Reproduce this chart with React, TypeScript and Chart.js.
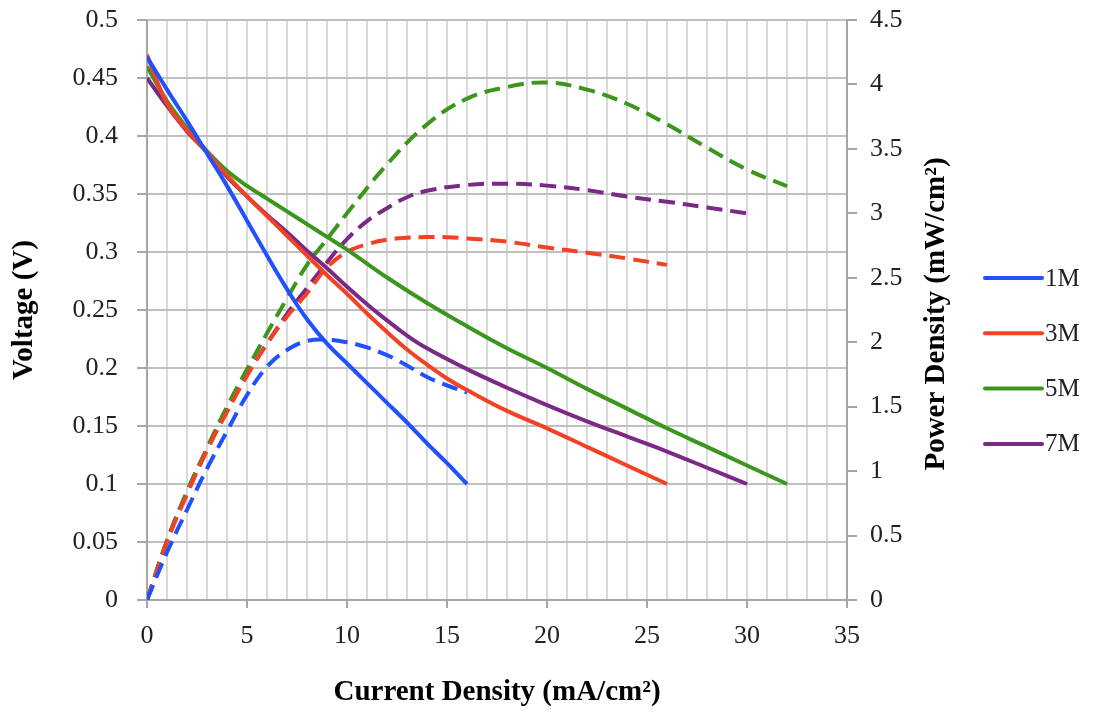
import React, { useEffect, useRef } from 'react';
import { Chart, registerables } from 'chart.js';

Chart.register(...registerables);

// ---- data ----
const seriesLabels = ['1M', '3M', '5M', '7M'];

const current1M = [0, 1, 2, 3, 4, 5, 6, 7, 8, 9, 10, 11, 12, 13, 14, 15, 16];
const voltage1M = [0.468, 0.44, 0.413, 0.385, 0.357, 0.327, 0.297, 0.268, 0.242, 0.221, 0.204, 0.187, 0.17, 0.153, 0.135, 0.118, 0.1];
const power1M = [0, 0.37, 0.7, 1.02, 1.31, 1.59, 1.81, 1.94, 2.01, 2.02, 2.0, 1.96, 1.9, 1.82, 1.73, 1.665, 1.61];

const current3M = [0, 1, 2, 3, 4, 5, 6, 7, 8, 9, 10, 11, 12, 13, 14, 15, 16, 18, 20, 22, 24, 26];
const voltage3M = [0.47, 0.428, 0.405, 0.386, 0.366, 0.348, 0.331, 0.314, 0.297, 0.28, 0.264, 0.247, 0.231, 0.216, 0.203, 0.191, 0.181, 0.163, 0.148, 0.132, 0.116, 0.1];
const power3M = [0, 0.45, 0.82, 1.16, 1.46, 1.74, 1.99, 2.2, 2.38, 2.58, 2.7, 2.76, 2.795, 2.81, 2.816, 2.815, 2.805, 2.78, 2.735, 2.695, 2.65, 2.6];

const current5M = [0, 1, 2, 3, 4, 5, 6, 7, 8, 9, 10, 12, 14, 16, 18, 20, 22, 24, 26, 28, 30, 32];
const voltage5M = [0.46, 0.43, 0.407, 0.387, 0.37, 0.357, 0.346, 0.335, 0.324, 0.313, 0.302, 0.278, 0.256, 0.236, 0.217, 0.2, 0.182, 0.165, 0.148, 0.132, 0.116, 0.1];
const power5M = [0, 0.46, 0.84, 1.18, 1.5, 1.79, 2.07, 2.34, 2.6, 2.8, 3.0, 3.38, 3.69, 3.89, 3.98, 4.015, 3.96, 3.85, 3.69, 3.51, 3.34, 3.21];

const current7M = [0, 1, 2, 3, 4, 5, 6, 7, 8, 9, 10, 11, 12, 13, 14, 16, 18, 20, 22, 24, 26, 28, 30];
const voltage7M = [0.45, 0.426, 0.404, 0.386, 0.365, 0.348, 0.332, 0.317, 0.301, 0.286, 0.27, 0.255, 0.241, 0.228, 0.217, 0.199, 0.183, 0.168, 0.154, 0.141, 0.128, 0.114, 0.1];
const power7M = [0, 0.46, 0.84, 1.17, 1.47, 1.75, 1.99, 2.22, 2.42, 2.62, 2.8, 2.94, 3.04, 3.125, 3.175, 3.22, 3.23, 3.215, 3.18, 3.13, 3.09, 3.045, 3.0];

const xTickLabels = ['0', '5', '10', '15', '20', '25', '30', '35'];
const voltageTickLabels = ['0', '0.05', '0.1', '0.15', '0.2', '0.25', '0.3', '0.35', '0.4', '0.45', '0.5'];
const powerTickLabels = ['0', '0.5', '1', '1.5', '2', '2.5', '3', '3.5', '4', '4.5'];

const xTitle = 'Current Density (mA/cm²)';
const leftTitle = 'Voltage (V)';
const rightTitle = 'Power Density (mW/cm²)';

// ---- styles ----
const seriesColors = ['#2050ff', '#f24124', '#3c961e', '#7a2a85'];
const FONT = "'Liberation Serif', 'Times New Roman', serif";
const AXIS_GRAY = '#a6a6a6';

const toPoints = (xs: number[], ys: number[]) => xs.map((x, i) => ({ x, y: ys[i] }));

export default function App() {
  const canvasRef = useRef<HTMLCanvasElement | null>(null);

  useEffect(() => {
    if (!canvasRef.current) return;
    const currents = [current1M, current3M, current5M, current7M];
    const voltages = [voltage1M, voltage3M, voltage5M, voltage7M];
    const powers = [power1M, power3M, power5M, power7M];

    const solid = seriesLabels.map((label, i) => ({
      label,
      data: toPoints(currents[i], voltages[i]),
      borderColor: seriesColors[i],
      backgroundColor: seriesColors[i],
      borderWidth: 4,
      yAxisID: 'y',
      fill: false,
      pointRadius: 0,
      tension: 0.4,
    }));
    const dashed = seriesLabels.map((label, i) => ({
      label: label + ' power',
      data: toPoints(currents[i], powers[i]),
      borderColor: seriesColors[i],
      backgroundColor: seriesColors[i],
      borderWidth: 4,
      borderDash: [16, 8],
      yAxisID: 'y1',
      fill: false,
      pointRadius: 0,
      tension: 0.4,
    }));

    const overlay = {
      id: 'overlay',
      afterDraw(chart: any) {
        const { ctx, chartArea } = chart;
        ctx.save();
        // right axis title (reads bottom to top)
        ctx.translate(chartArea.right + 90, (chartArea.top + chartArea.bottom) / 2 + 4);
        ctx.rotate(-Math.PI / 2);
        ctx.font = `bold 29px ${FONT}`;
        ctx.fillStyle = '#000';
        ctx.textAlign = 'center';
        ctx.textBaseline = 'middle';
        ctx.fillText(rightTitle, 0, 0);
        ctx.restore();

        // legend
        ctx.save();
        const x0 = chartArea.right + 138;
        seriesLabels.forEach((lab, i) => {
          const y = 278 + i * 55.3;
          ctx.strokeStyle = seriesColors[i];
          ctx.lineWidth = 4;
          ctx.lineCap = 'round';
          ctx.beginPath();
          ctx.moveTo(x0, y);
          ctx.lineTo(x0 + 57, y);
          ctx.stroke();
          ctx.font = `25px ${FONT}`;
          ctx.fillStyle = '#222';
          ctx.textAlign = 'left';
          ctx.textBaseline = 'middle';
          ctx.fillText(lab, x0 + 60, y + 1);
        });
        ctx.restore();
      },
    };

    const noVPad = (s: any) => { s.paddingTop = 0; s.paddingBottom = 0; };

    const chart = new Chart(canvasRef.current, {
      type: 'line',
      data: { datasets: [...solid, ...dashed] as any },
      plugins: [overlay],
      options: {
        animation: false,
        responsive: false,
        maintainAspectRatio: false,
        layout: { padding: { top: 20, left: 0, right: 0, bottom: 0 } },
        plugins: { legend: { display: false }, tooltip: { enabled: false } },
        elements: { point: { radius: 0 } },
        scales: {
          x: {
            type: 'linear',
            position: 'bottom',
            min: 0,
            max: 35,
            ticks: {
              stepSize: 1,
              autoSkip: false,
              maxRotation: 0,
              padding: 13,
              color: '#222',
              font: { family: FONT, size: 26 },
              callback: (v: any) => (Number(v) % 5 === 0 ? xTickLabels[Number(v) / 5] : ''),
            },
            grid: {
              color: '#d9d9d9',
              lineWidth: 2,
              tickLength: 8,
              tickWidth: 2,
              tickColor: (c: any) => (c.tick && c.tick.value % 5 === 0 ? AXIS_GRAY : 'rgba(0,0,0,0)'),
            },
            border: { color: AXIS_GRAY, width: 2 },
            title: {
              display: true,
              text: xTitle,
              color: '#000',
              font: { family: FONT, size: 29, weight: 'bold' },
              padding: { top: 0, bottom: 9 },
            },
            afterFit: (s: any) => { s.height = 119; s.paddingLeft = 0; s.paddingRight = 0; },
          } as any,
          y: {
            type: 'linear',
            position: 'left',
            min: 0,
            max: 0.5,
            ticks: {
              stepSize: 0.05,
              padding: 19,
              color: '#222',
              font: { family: FONT, size: 26 },
              callback: (_v: any, i: number) => voltageTickLabels[i],
            },
            grid: { color: '#c0c0c0', lineWidth: 2, tickLength: 10, tickColor: AXIS_GRAY, tickWidth: 2 },
            border: { color: AXIS_GRAY, width: 2 },
            title: {
              display: true,
              text: leftTitle,
              color: '#000',
              font: { family: FONT, size: 29, weight: 'bold' },
              padding: { top: 7, bottom: 0 },
            },
            afterFit: (s: any) => { s.width = 147; noVPad(s); },
          } as any,
          y1: {
            type: 'linear',
            position: 'right',
            min: 0,
            max: 4.5,
            ticks: {
              stepSize: 0.5,
              padding: 13,
              color: '#222',
              font: { family: FONT, size: 26 },
              callback: (_v: any, i: number) => powerTickLabels[i],
            },
            grid: { drawOnChartArea: false, color: AXIS_GRAY, lineWidth: 2, tickLength: 10, tickWidth: 2 },
            border: { color: AXIS_GRAY, width: 2 },
            afterFit: (s: any) => { s.width = 248; noVPad(s); },
          } as any,
        },
      },
    });
    return () => chart.destroy();
  }, []);

  return (
    <div style={{ position: 'fixed', left: 0, top: 0, width: 1095, height: 719, background: '#fff' }}>
      <canvas ref={canvasRef} width={1095} height={719} style={{ display: 'block' }} />
    </div>
  );
}
